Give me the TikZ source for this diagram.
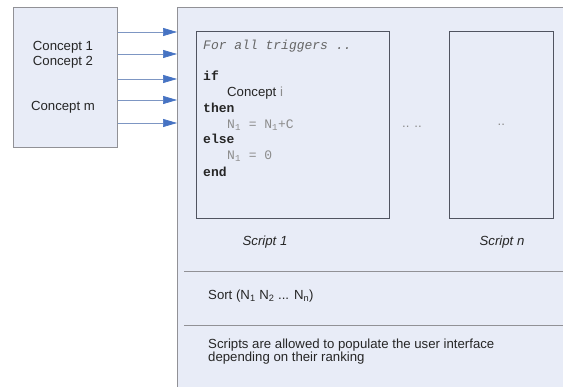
\documentclass[tikz,border=0pt]{standalone}
\usepackage{fontspec}
\setmainfont{Liberation Sans}
\setmonofont{Liberation Mono}
\usetikzlibrary{arrows.meta,positioning}
\definecolor{boxfill}{RGB}{232,236,247}
\definecolor{boxline}{RGB}{145,145,150}
\definecolor{scriptline}{RGB}{80,84,96}
\definecolor{feedline}{RGB}{125,150,195}
\definecolor{feedhead}{RGB}{70,115,195}
\definecolor{codegray}{RGB}{140,140,140}

\begin{document}
\begin{tikzpicture}[x=1pt,y=-1pt,
        panel/.style={draw=boxline, fill=boxfill, line width=0.8pt, anchor=north west},
        scriptbox/.style={draw=scriptline, line width=0.8pt, anchor=north west},
        feed/.style={draw=feedline, line width=0.7pt, -{Triangle[length=14pt,width=8pt,color=feedhead]}},
        txt/.style={font=\fontsize{13.2}{14}\selectfont, inner sep=0pt, text=black!85},
        code/.style={font=\ttfamily\fontsize{13}{14}\selectfont, anchor=base west, inner sep=0pt, text=black!85}]
        \clip (0,0) rectangle (563,387);
        \fill[white] (0,0) rectangle (563,387);

        % boxes
        \node[panel, minimum width=104pt, minimum height=140pt] (concepts) at (13,7) {};
        \node[panel, minimum width=410pt, minimum height=400pt] (main) at (177,7) {};
        \node[scriptbox, minimum width=193pt, minimum height=187pt] (scriptA) at (196,31) {};
        \node[scriptbox, minimum width=104pt, minimum height=187pt] (scriptN) at (449,31) {};

        % concepts
        \foreach \y/\t in {47/Concept 1, 62/Concept 2, 107/Concept m}
        {
            \node[txt] at (63,\y) {\t};
        };

        % feeds into the scripts
        \foreach \y in {32,54,79,100,123}
        {
            \coordinate (feed\y) at (0,\y);
            \draw[feed] (concepts.east |- feed\y) -- (main.west |- feed\y);
        };

        % script 1 body
        \node[code, font=\ttfamily\itshape\fontsize{13}{14}\selectfont, text=black!60] at (203,50) {For all triggers ..};
        \foreach \y/\t in {81/if, 113/then, 144/else, 177/end}
        {
            \node[code, font=\ttfamily\bfseries\fontsize{13}{14}\selectfont] at (203,\y) {\t};
        };
        \node[txt, anchor=base west] at (227,97) {Concept \textcolor{codegray}{i}};
        \node[code, text=codegray] at (227,129) {N\textsubscript{1} = N\textsubscript{1}+C};
        \node[code, text=codegray] at (227,160) {N\textsubscript{1} = 0};

        % dots
        \node[txt, text=codegray] at (412,127) {.. ..};
        \node[txt, text=codegray] at (scriptN.center) {..};

        % script labels
        \node[txt, font=\itshape\fontsize{13.2}{14}\selectfont] at (265,242) {Script 1};
        \node[txt, font=\itshape\fontsize{13.2}{14}\selectfont] at (502,242) {Script n};

        % sorting and ranking
        \draw[boxline, line width=0.8pt] (184,271) -- (563,271);
        \draw[boxline, line width=0.8pt] (184,325) -- (563,325);
        \node[txt, anchor=west] at (208,296) {Sort (N\textsubscript{1} N\textsubscript{2} ... N\textsubscript{n})};
        \node[txt, anchor=north west, align=left, font=\fontsize{13.2}{12.5}\selectfont] at (208,339)
            {Scripts are allowed to populate the user interface\\depending on their ranking};
    \end{tikzpicture}
\end{document}
